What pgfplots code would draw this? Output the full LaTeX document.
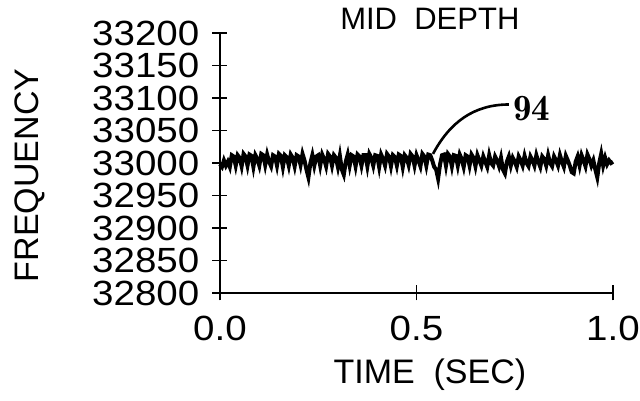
\documentclass[border=0pt]{standalone}
\usepackage{fontspec}
\setmainfont{Liberation Sans}
\newfontfamily\tickfont{Liberation Sans}[FakeStretch=1.1]
\usepackage{pgfplots}
\pgfplotsset{compat=1.18}
\usepackage{pgfplotstable}

\pgfplotstableread{
t f
0.000 32998
0.005 32994
0.010 33004
0.015 32996
0.020 33002
0.025 32994
0.030 33012
0.035 33010
0.040 32996
0.045 33012
0.050 33008
0.055 32995
0.060 33014
0.065 33010
0.070 32996
0.075 33013
0.080 33011
0.085 32994
0.090 33012
0.095 33006
0.100 32996
0.105 33014
0.110 33012
0.115 32997
0.120 33013
0.125 33002
0.130 32995
0.135 33012
0.140 33010
0.145 32996
0.150 33014
0.155 33011
0.160 32994
0.165 33012
0.170 33009
0.175 32996
0.180 33013
0.185 33008
0.190 32995
0.195 33012
0.200 33010
0.205 32997
0.210 33014
0.215 33004
0.220 32990
0.225 32978
0.230 33000
0.235 33012
0.240 32996
0.245 33010
0.250 33012
0.255 32996
0.260 33013
0.265 33006
0.270 32995
0.275 33014
0.280 33010
0.285 32996
0.290 33012
0.295 33008
0.300 32994
0.305 33011
0.310 32990
0.315 32982
0.320 33002
0.325 33013
0.330 32996
0.335 33012
0.340 33010
0.345 32995
0.350 33013
0.355 33010
0.360 32996
0.365 33012
0.370 33012
0.375 32995
0.380 33014
0.385 33008
0.390 32996
0.395 33012
0.400 33011
0.405 32994
0.410 33013
0.415 33006
0.420 32996
0.425 33014
0.430 33010
0.435 32995
0.440 33012
0.445 33009
0.450 32996
0.455 33013
0.460 33011
0.465 32994
0.470 33012
0.475 33008
0.480 32997
0.485 33014
0.490 33010
0.495 32996
0.500 33012
0.505 33004
0.510 32995
0.515 33014
0.520 33010
0.525 32996
0.530 33013
0.535 33012
0.540 33004
0.545 32994
0.550 32990
0.555 32976
0.560 32998
0.565 33012
0.570 33013
0.575 32996
0.580 33014
0.585 33010
0.590 32995
0.595 33012
0.600 33011
0.605 32996
0.610 33013
0.615 33006
0.620 32994
0.625 33012
0.630 33010
0.635 32996
0.640 33013
0.645 33008
0.650 32995
0.655 33012
0.660 33004
0.665 32996
0.670 33010
0.675 33002
0.680 32994
0.685 33012
0.690 33000
0.695 32996
0.700 33010
0.705 33004
0.710 32995
0.715 33008
0.720 32990
0.725 32984
0.730 33002
0.735 33010
0.740 32996
0.745 33008
0.750 33002
0.755 32994
0.760 33010
0.765 33004
0.770 32996
0.775 33011
0.780 33000
0.785 32995
0.790 33010
0.795 33004
0.800 32996
0.805 33012
0.810 33002
0.815 32994
0.820 33010
0.825 33006
0.830 32996
0.835 33012
0.840 33000
0.845 32995
0.850 33010
0.855 33004
0.860 32996
0.865 33012
0.870 33002
0.875 32994
0.880 33011
0.885 33004
0.890 32996
0.895 32986
0.900 32984
0.905 33002
0.910 33010
0.915 32996
0.920 33012
0.925 33004
0.930 32995
0.935 33013
0.940 33006
0.945 32996
0.950 33004
0.955 32990
0.960 32978
0.965 33000
0.970 33014
0.975 32996
0.980 33008
0.985 32998
0.990 33004
0.995 33000
1.000 33002
}\middepth

\begin{document}
\begin{tikzpicture}
\begin{axis}[
    at={(0,0)}, anchor=south west,
    scale only axis,
    width=393pt, height=260pt,
    xmin=0, xmax=1,
    ymin=32800, ymax=33200,
    scaled x ticks=false,
    scaled y ticks=false,
    axis x line*=bottom,
    axis y line*=left,
    axis line style={line width=2.4pt},
    xtick={0,0.5,1},
    xticklabels={0.0,0.5,1.0},
    ytick={32800,32850,32900,32950,33000,33050,33100,33150,33200},
    yticklabels={32800,32850,32900,32950,33000,33050,33100,33150,33200},
    tick align=center,
    major tick length=15pt,
    tick style={line width=1.8pt, black},
    ticklabel style={font=\tickfont\fontsize{35}{36}\selectfont},
    yticklabel style={inner sep=0pt, xshift=-13pt},
    xticklabel style={inner sep=0pt, yshift=-15pt},
    title={MID\ \ DEPTH},
    title style={font=\fontsize{31}{32}\selectfont, at={(axis description cs:0.534,1.031)}, anchor=center},
    xlabel={TIME\ \ (SEC)},
    xlabel style={font=\fontsize{34}{36}\selectfont, at={(axis description cs:0.534,-0.315)}, anchor=center},
    ylabel={FREQUENCY},
    ylabel style={font=\fontsize{34}{36}\selectfont, at={(axis description cs:-0.483,0.452)}, anchor=center, rotate=0},
    clip=false,
]
\addplot[black, line width=4pt, line join=miter] table[x=t, y=f] {\middepth};
\draw[black, line width=2.6pt] (axis cs:0.542,33014) to[out=62,in=180] (axis cs:0.735,33090);
\node[anchor=west, inner sep=0pt, font=\fontfamily{lmr}\bfseries\fontsize{37}{38}\selectfont] at (axis cs:0.746,33084) {94};
\end{axis}
\pgfresetboundingbox
\path (-220pt,-108pt) rectangle (420pt,293pt);
\end{tikzpicture}
\end{document}
